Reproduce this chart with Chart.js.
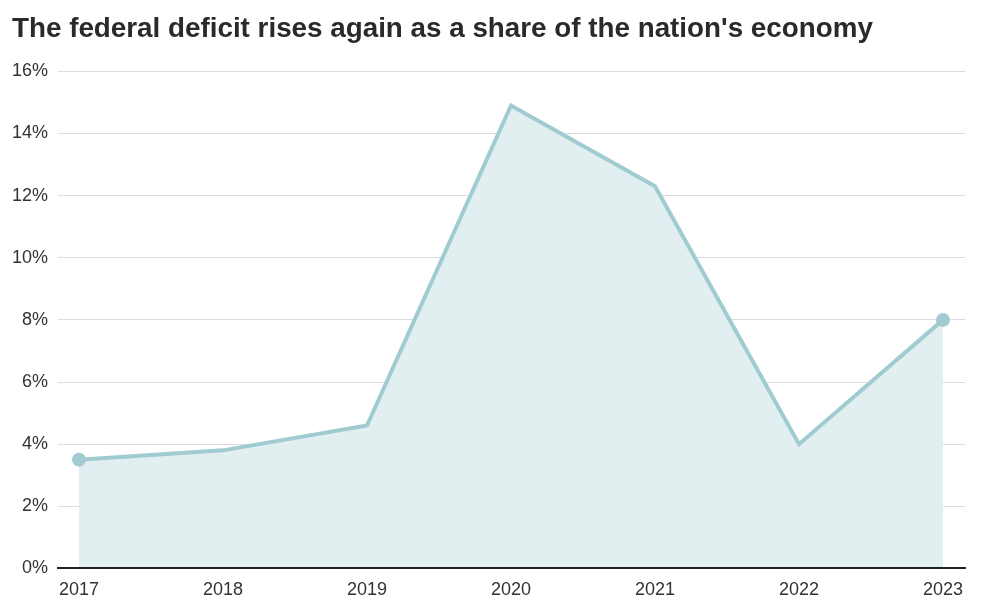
<!DOCTYPE html>
<html>
<head>
<meta charset="utf-8">
<script src="https://cdn.jsdelivr.net/npm/chart.js@4/dist/chart.umd.min.js"></script>
<style>
  html, body { margin: 0; padding: 0; background: #fff; }
  #wrap { position: relative; width: 986px; height: 607px; }
</style>
</head>
<body>
<div id="wrap"><canvas id="chart"></canvas></div>
<script>
// Federal deficit as share of GDP
var years = [2017, 2018, 2019, 2020, 2021, 2022, 2023];
var deficit = [3.5, 3.8, 4.6, 14.9, 12.3, 4.0, 8.0];
var yTicks = [0, 2, 4, 6, 8, 10, 12, 14, 16];

var lineColor = '#9fcbd1';
var fillColor = '#e1eff0';

var points = [];
for (var i = 0; i < years.length; i++) {
  points.push({ x: years[i], y: deficit[i] });
}
// only the two end points get a dot
var radii = years.map(function(y, i) { return (i === 0 || i === years.length - 1) ? 7 : 0; });

var ctx = document.getElementById('chart').getContext('2d');
var chart = new Chart(ctx, {
  type: 'line',
  data: {
    datasets: [{
      data: points,
      borderColor: lineColor,
      backgroundColor: fillColor,
      borderWidth: 4,
      fill: 'origin',
      tension: 0,
      pointRadius: radii,
      pointHoverRadius: radii,
      pointBackgroundColor: lineColor,
      pointBorderWidth: 0
    }]
  },
  options: {
    responsive: true,
    maintainAspectRatio: false,
    animation: false,
    layout: { padding: { left: 12, right: 21, top: 0, bottom: 3 } },
    plugins: {
      legend: { display: false },
      tooltip: { enabled: false },
      title: {
        display: true,
        text: "The federal deficit rises again as a share of the nation's economy",
        align: 'start',
        color: '#2a2a2a',
        font: { family: 'Liberation Sans', size: 27.8, weight: 'bold' },
        padding: { top: 13, bottom: 25 }
      }
    },
    scales: {
      x: {
        type: 'linear',
        min: years[0] - 0.146,
        max: years[years.length - 1] + 0.153,
        afterBuildTicks: function(scale) {
          scale.ticks = years.map(function(y) { return { value: y }; });
        },
        grid: { display: false },
        border: { display: true, color: '#222', width: 2, z: 1 },
        ticks: {
          color: '#333',
          padding: 3,
          font: { family: 'Liberation Sans', size: 18 },
          callback: function(v) { return String(v); }
        }
      },
      y: {
        min: 0,
        max: 16,
        afterBuildTicks: function(scale) {
          scale.ticks = yTicks.map(function(v) { return { value: v }; });
        },
        afterFit: function(scale) { scale.width = 46; },
        grid: { color: '#dcdcdc', lineWidth: 1, drawTicks: false },
        border: { display: false },
        ticks: {
          color: '#333',
          padding: 10,
          font: { family: 'Liberation Sans', size: 18 },
          callback: function(v) { return v + '%'; }
        }
      }
    }
  }
});
</script>
</body>
</html>
